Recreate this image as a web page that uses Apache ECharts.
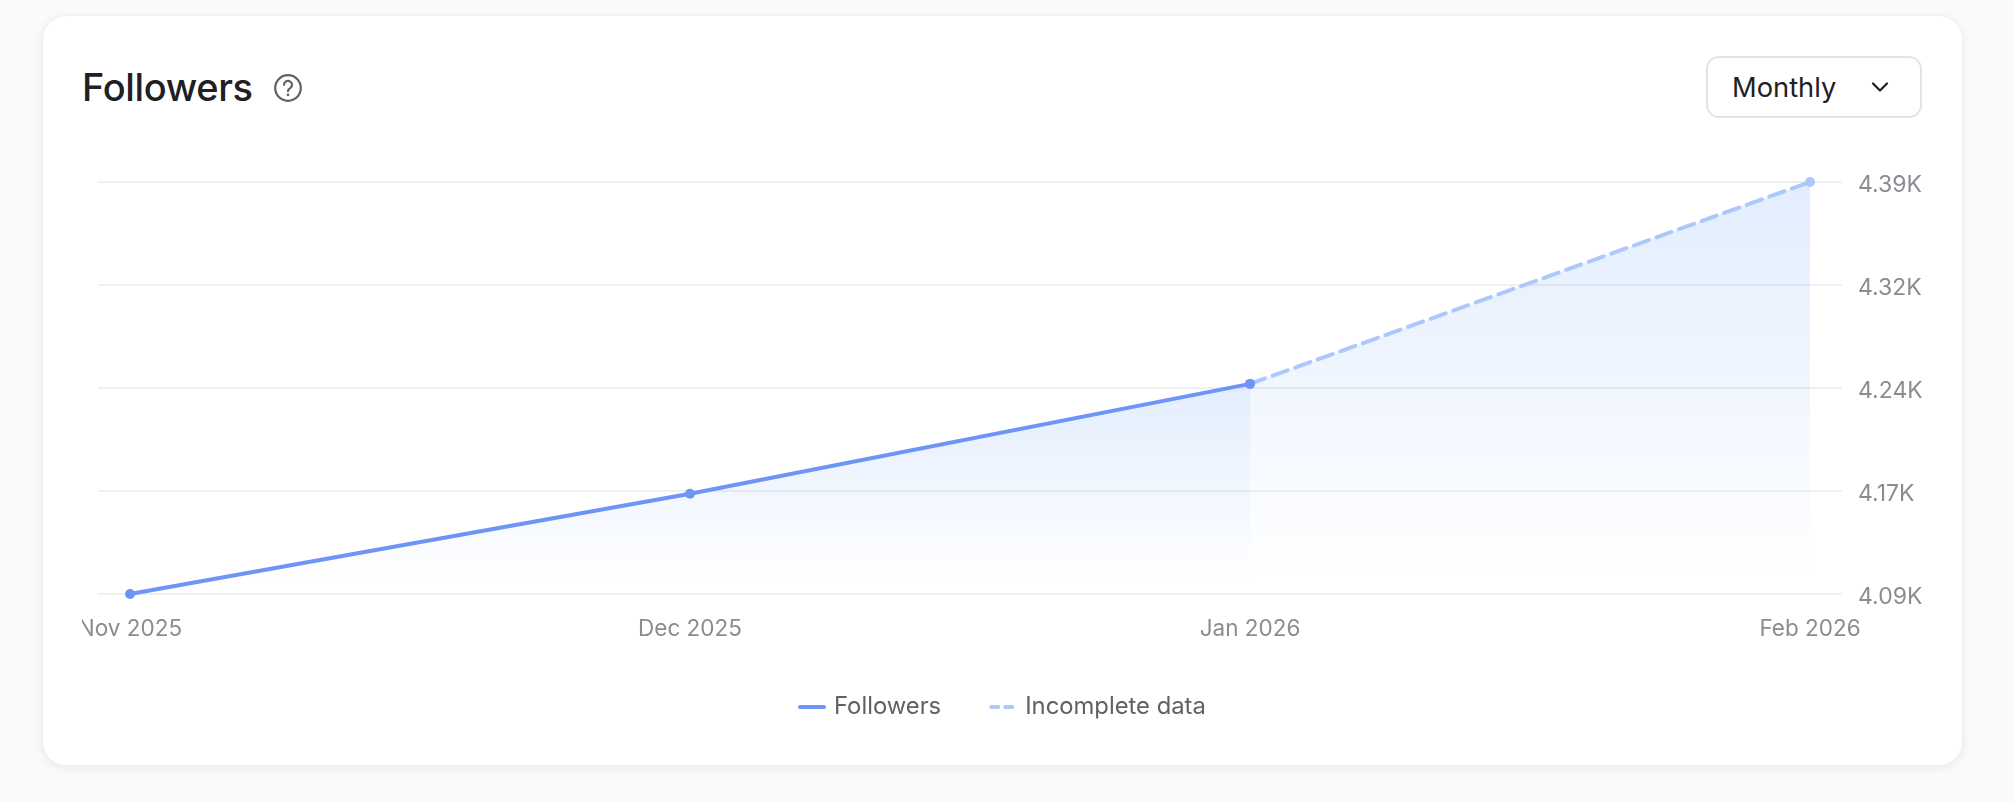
<!DOCTYPE html>
<html>
<head>
<meta charset="utf-8">
<style>
html,body{margin:0;padding:0;width:2014px;height:802px;background:#f9fafa;overflow:hidden;font-family:Inter,sans-serif}
#card{position:absolute;left:42px;top:15px;width:1921px;height:751px;box-sizing:border-box;background:#fff;border:1px solid #eff0f1;border-radius:24px;box-shadow:0 2px 8px rgba(0,0,0,.07)}
#title{position:absolute;left:82px;top:63px;font-size:38px;line-height:48px;font-weight:500;color:#1f2023;letter-spacing:-.35px}
#help{position:absolute;left:273px;top:73px}
#drop{position:absolute;left:1706px;top:56px;width:216px;height:62px;box-sizing:border-box;border:2px solid #e3e4e6;border-radius:13px;background:#fff}
#drop span{position:absolute;left:24px;top:14px;font-size:27.3px;line-height:32px;color:#1f2023}
#drop svg{position:absolute;left:162px;top:22px}
#chart{position:absolute;left:82px;top:160px;width:1878px;height:590px}
</style>
<script src="https://cdn.jsdelivr.net/npm/echarts@6/dist/echarts.min.js"></script>
</head>
<body>
<div id="card"></div>
<div id="title">Followers</div>
<svg id="help" width="30" height="30" viewBox="0 0 30 30" fill="none"><circle cx="15" cy="15" r="12.8" stroke="#5f6166" stroke-width="2.2"/><path d="M11 11.8a4 4 0 1 1 6.2 3.4c-1.4.9-2.2 1.5-2.2 3" stroke="#5f6166" stroke-width="2.2" stroke-linecap="round"/><circle cx="15" cy="21.8" r="1.4" fill="#5f6166"/></svg>
<div id="drop"><span>Monthly</span><svg width="20" height="14" viewBox="0 0 20 14" fill="none"><path d="M3 3.5l7 7 7-7" stroke="#1f2023" stroke-width="2.2" stroke-linecap="round" stroke-linejoin="round"/></svg></div>
<div id="chart"></div>
<script>
const months = ['Nov 2025', 'Dec 2025', 'Jan 2026', 'Feb 2026'];
const followers = [4090, 4163, 4243, null];
const incomplete = [null, null, 4243, 4390];
const yTicks = [4090, 4165, 4240, 4315, 4390];
const yLabels = ['4.09K', '4.17K', '4.24K', '4.32K', '4.39K'];

const toPairs = arr => arr.map((v, i) => [i, v]);
const chart = echarts.init(document.getElementById('chart'), null, {renderer: 'canvas'});
const fade = (a0, end) => ({type: 'linear', x: 0, y: 0, x2: 0, y2: 1, colorStops: [
  {offset: 0, color: 'rgba(110,165,250,' + a0 + ')'},
  {offset: end, color: 'rgba(110,165,250,0)'},
  {offset: 1, color: 'rgba(110,165,250,0)'}
]});
chart.setOption({
  animation: false,
  grid: {left: 16, width: 1744, top: 22, height: 412, outerBoundsMode: 'none'},
  legend: {
    show: true,
    top: 530,
    left: 711,
    itemWidth: 24,
    itemHeight: 14,
    itemGap: 48,
    selectedMode: false,
    itemStyle: {opacity: 0},
    lineStyle: {width: 4, cap: 'round'},
    textStyle: {color: '#5f6166', fontFamily: 'Inter', fontSize: 23.8, padding: [0, 0, 0, 5]},
    data: [
      {name: 'Followers'},
      {name: 'Incomplete data', lineStyle: {width: 4, type: [7, 7], cap: 'round'}}
    ]
  },
  xAxis: {
    type: 'value',
    min: -32 / 560,
    max: 3 + 32 / 560,
    axisLine: {show: false},
    axisTick: {show: false},
    splitLine: {show: false},
    axisLabel: {
      customValues: [0, 1, 2, 3],
      formatter: v => months[Math.round(v)],
      color: '#8a8c91', fontFamily: 'Inter', fontSize: 22.5, margin: 24,
      hideOverlap: false
    }
  },
  yAxis: {
    type: 'value',
    position: 'right',
    min: yTicks[0],
    max: yTicks[yTicks.length - 1],
    axisLine: {show: false},
    axisTick: {show: false, customValues: yTicks},
    splitLine: {show: true, lineStyle: {color: '#eff0f2', width: 2}},
    axisLabel: {
      customValues: yTicks,
      formatter: v => yLabels[yTicks.indexOf(v)],
      color: '#8a8c91', fontFamily: 'Inter', fontSize: 23, margin: 16,
      verticalAlign: 'top',
      lineHeight: 6
    }
  },
  series: [
    {
      name: 'Followers', type: 'line', data: toPairs(followers), clip: false,
      symbol: 'circle', symbolSize: 10, showSymbol: true,
      lineStyle: {color: '#6f94f7', width: 4, cap: 'round'},
      itemStyle: {color: '#6f94f7'},
      areaStyle: {color: fade(0.2, 0.93), opacity: 1}
    },
    {
      name: 'Incomplete data', type: 'line', data: toPairs(incomplete), clip: false,
      symbol: 'circle', symbolSize: 10, showSymbol: true,
      lineStyle: {color: '#adc8fb', width: 4, type: [16, 8], cap: 'round'},
      itemStyle: {color: '#adc8fb'},
      areaStyle: {color: fade(0.2, 0.96), opacity: 1},
      z: 1
    }
  ]
});
</script>
</body>
</html>
